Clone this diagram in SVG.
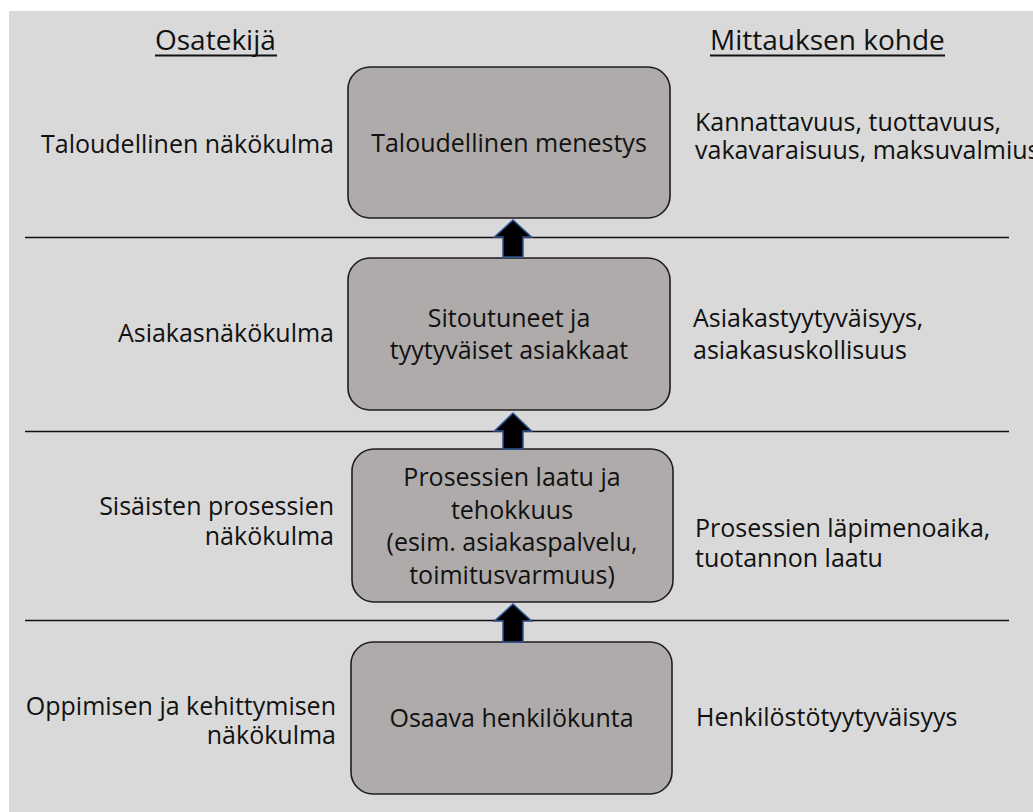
<svg xmlns="http://www.w3.org/2000/svg" width="1033" height="812" viewBox="0 0 1033 812">
  <style>
    text { font-family: "Open Sans", "Noto Sans", "DejaVu Sans", sans-serif; fill: #111111; }
    .t { font-size: 25px; }
    .h { font-size: 28px; }
    .mid { text-anchor: middle; }
    .end { text-anchor: end; }
    .box { fill: #afabab; stroke: #1e1e1e; stroke-width: 1.6; }
    .sep { stroke: #111111; stroke-width: 1.6; }
    .ul { stroke: #111111; stroke-width: 2; }
    .arrow { fill: #000000; stroke: #2f5597; stroke-width: 1.5; stroke-linejoin: miter; }
  </style>
  <rect x="0" y="0" width="1033" height="812" fill="#ffffff"/>
  <rect x="9" y="11" width="1024" height="801" fill="#d9d9d9"/>

  <g id="headers">
    <text class="h" x="155" y="50">Osatekijä</text>
    <line class="ul" x1="155" y1="55.5" x2="277" y2="55.5"/>
    <text class="h" x="710" y="50">Mittauksen kohde</text>
    <line class="ul" x1="710" y1="55.5" x2="945" y2="55.5"/>
  </g>

  <g id="separators">
    <line class="sep" x1="25" y1="237.5" x2="1009" y2="237.5"/>
    <line class="sep" x1="25" y1="431.5" x2="1009" y2="431.5"/>
    <line class="sep" x1="25" y1="620.5" x2="1009" y2="620.5"/>
  </g>

  <g id="labels-left">
    <text class="t end" x="334" y="153">Taloudellinen näkökulma</text>
    <text class="t end" x="334" y="342">Asiakasnäkökulma</text>
    <text class="t end" x="334" y="515">Sisäisten prosessien</text>
    <text class="t end" x="334" y="545">näkökulma</text>
    <text class="t end" x="336" y="715">Oppimisen ja kehittymisen</text>
    <text class="t end" x="336" y="744">näkökulma</text>
  </g>

  <g id="labels-right">
    <text class="t" x="695" y="131">Kannattavuus, tuottavuus,</text>
    <text class="t" x="695" y="159">vakavaraisuus, maksuvalmius</text>
    <text class="t" x="693" y="327">Asiakastyytyväisyys,</text>
    <text class="t" x="693" y="359">asiakasuskollisuus</text>
    <text class="t" x="695" y="537">Prosessien läpimenoaika,</text>
    <text class="t" x="695" y="567">tuotannon laatu</text>
    <text class="t" x="696" y="726">Henkilöstötyytyväisyys</text>
  </g>

  <g id="node-taloudellinen">
    <rect class="box" x="348" y="67" width="322" height="151" rx="22" ry="22"/>
    <text class="t mid" x="509" y="152">Taloudellinen menestys</text>
  </g>

  <g id="node-asiakkaat">
    <rect class="box" x="348" y="258" width="322" height="152" rx="22" ry="22"/>
    <text class="t mid" x="509" y="327">Sitoutuneet ja</text>
    <text class="t mid" x="509" y="359">tyytyväiset asiakkaat</text>
  </g>

  <g id="node-prosessit">
    <rect class="box" x="352" y="449" width="321" height="153" rx="22" ry="22"/>
    <text class="t mid" x="512" y="485.5">Prosessien laatu ja</text>
    <text class="t mid" x="512" y="518.5">tehokkuus</text>
    <text class="t mid" x="512" y="551">(esim. asiakaspalvelu,</text>
    <text class="t mid" x="512" y="584">toimitusvarmuus)</text>
  </g>

  <g id="node-henkilokunta">
    <rect class="box" x="351" y="642" width="321" height="152" rx="22" ry="22"/>
    <text class="t mid" x="511.5" y="727">Osaava henkilökunta</text>
  </g>

  <g id="connectors">
    <polygon class="arrow" points="513,220 531.5,237 523,237 523,257 503,257 503,237 494.5,237"/>
    <polygon class="arrow" points="513,413 531.5,431 523,431 523,449 503,449 503,431 494.5,431"/>
    <polygon class="arrow" points="513,604 531.5,621 523,621 523,642 503,642 503,621 494.5,621"/>
  </g>
</svg>
